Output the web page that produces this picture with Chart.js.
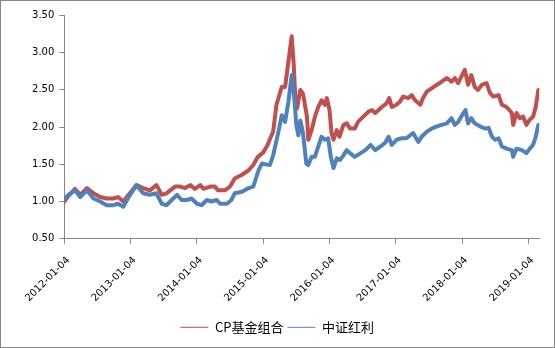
<!DOCTYPE html>
<html>
<head>
<meta charset="utf-8">
<script src="https://cdn.jsdelivr.net/npm/chart.js@4.4.1/dist/chart.umd.min.js"></script>
<style>
  html, body { margin: 0; padding: 0; background: #fff; }
  .frame { width: 555px; height: 348px; box-sizing: border-box; border: 1px solid #868686; }
  canvas { display: block; }
</style>
</head>
<body>
<div class="frame"><canvas id="chart" width="553" height="346"></canvas></div>
<script>
// ── 数据 ──────────────────────────────────────────────────────────────────────
// 时间以小数年份表示（2012.00 = 2012-01-04）
const tickYears  = [2012, 2013, 2014, 2015, 2016, 2017, 2018, 2019];
const tickLabels = ['2012-01-04', '2013-01-04', '2014-01-04', '2015-01-04',
                    '2016-01-04', '2017-01-04', '2018-01-04', '2019-01-04'];

const cpYears = [
  2012.00, 2012.06, 2012.16, 2012.24, 2012.34, 2012.44, 2012.54, 2012.64, 2012.74, 2012.81, 2012.89, 2012.97,
  2013.09, 2013.19, 2013.29, 2013.39, 2013.47, 2013.54, 2013.67, 2013.75, 2013.82, 2013.90, 2013.97,
  2014.05, 2014.10, 2014.20, 2014.27, 2014.32, 2014.42, 2014.50, 2014.57, 2014.68, 2014.78, 2014.85, 2014.92,
  2015.00, 2015.06, 2015.15, 2015.20, 2015.28, 2015.33, 2015.38, 2015.43, 2015.46, 2015.49, 2015.51, 2015.56,
  2015.60, 2015.66, 2015.68, 2015.73, 2015.78, 2015.83, 2015.88, 2015.93, 2015.96,
  2016.00, 2016.03, 2016.06, 2016.11, 2016.15, 2016.21, 2016.26, 2016.31, 2016.38, 2016.43, 2016.51, 2016.59,
  2016.64, 2016.69, 2016.74, 2016.79, 2016.86, 2016.90, 2016.94,
  2017.01, 2017.06, 2017.11, 2017.19, 2017.24, 2017.29, 2017.37, 2017.41, 2017.47, 2017.54, 2017.62, 2017.69,
  2017.77, 2017.84, 2017.89, 2017.94,
  2018.00, 2018.04, 2018.09, 2018.14, 2018.19, 2018.24, 2018.30, 2018.37, 2018.42, 2018.47, 2018.55, 2018.60,
  2018.67, 2018.75, 2018.77, 2018.82, 2018.87, 2018.92, 2018.97,
  2019.02, 2019.07, 2019.11, 2019.15,
];
const cpValues = [
  1.00, 1.07, 1.17, 1.09, 1.18, 1.11, 1.06, 1.04, 1.04, 1.06, 1.00, 1.09,
  1.22, 1.18, 1.15, 1.22, 1.09, 1.11, 1.20, 1.20, 1.18, 1.22, 1.17,
  1.22, 1.17, 1.20, 1.20, 1.15, 1.15, 1.20, 1.31, 1.36, 1.42, 1.49, 1.60,
  1.66, 1.75, 1.94, 2.30, 2.54, 2.54, 2.88, 3.22, 2.84, 2.30, 2.25, 2.50,
  2.45, 2.14, 1.83, 1.96, 2.14, 2.27, 2.36, 2.30, 2.39,
  2.23, 1.92, 1.83, 1.96, 1.87, 2.03, 2.05, 1.98, 1.98, 2.07, 2.14, 2.21,
  2.23, 2.19, 2.23, 2.27, 2.32, 2.39, 2.27,
  2.30, 2.34, 2.41, 2.39, 2.43, 2.36, 2.30, 2.39, 2.48, 2.52, 2.57, 2.61,
  2.66, 2.61, 2.66, 2.59,
  2.70, 2.77, 2.57, 2.70, 2.54, 2.50, 2.57, 2.59, 2.46, 2.41, 2.43, 2.30,
  2.27, 2.19, 2.03, 2.19, 2.12, 2.14, 2.03,
  2.10, 2.14, 2.27, 2.50,
];

const hlYears = [
  2012.00, 2012.06, 2012.16, 2012.24, 2012.34, 2012.44, 2012.54, 2012.64, 2012.74, 2012.81, 2012.89, 2012.97,
  2013.09, 2013.19, 2013.29, 2013.39, 2013.47, 2013.54, 2013.62, 2013.70, 2013.77, 2013.85, 2013.92,
  2014.00, 2014.07, 2014.15, 2014.22, 2014.30, 2014.35, 2014.45, 2014.52, 2014.57, 2014.68, 2014.78, 2014.85,
  2014.93, 2014.98,
  2015.03, 2015.10, 2015.15, 2015.23, 2015.28, 2015.33, 2015.38, 2015.43, 2015.46, 2015.50, 2015.53, 2015.56,
  2015.60, 2015.65, 2015.68, 2015.73, 2015.78, 2015.83, 2015.88, 2015.93, 2015.98,
  2016.02, 2016.06, 2016.11, 2016.16, 2016.21, 2016.26, 2016.31, 2016.38, 2016.47, 2016.54, 2016.62, 2016.69,
  2016.77, 2016.84, 2016.89, 2016.94,
  2017.01, 2017.09, 2017.16, 2017.26, 2017.34, 2017.39, 2017.47, 2017.54, 2017.62, 2017.69, 2017.77, 2017.84,
  2017.89, 2017.94,
  2018.00, 2018.05, 2018.09, 2018.14, 2018.19, 2018.27, 2018.35, 2018.40, 2018.45, 2018.50, 2018.55, 2018.60,
  2018.67, 2018.75, 2018.77, 2018.82, 2018.90, 2018.97,
  2019.02, 2019.07, 2019.11, 2019.15,
];
const hlValues = [
  1.03, 1.09, 1.15, 1.06, 1.15, 1.04, 1.00, 0.95, 0.95, 0.97, 0.93, 1.06,
  1.22, 1.11, 1.09, 1.11, 0.97, 0.95, 1.02, 1.09, 1.02, 1.02, 1.04,
  0.97, 0.95, 1.02, 1.00, 1.02, 0.97, 0.97, 1.02, 1.11, 1.13, 1.18, 1.20,
  1.42, 1.51,
  1.50, 1.49, 1.62, 1.94, 2.16, 2.07, 2.34, 2.70, 2.48, 2.03, 1.89, 2.09,
  1.92, 1.51, 1.49, 1.60, 1.60, 1.74, 1.87, 1.83, 1.85,
  1.60, 1.45, 1.58, 1.56, 1.62, 1.69, 1.65, 1.60, 1.65, 1.69, 1.76, 1.69,
  1.74, 1.79, 1.87, 1.76,
  1.83, 1.85, 1.85, 1.92, 1.80, 1.87, 1.94, 1.98, 2.01, 2.03, 2.05, 2.12,
  2.03, 2.07,
  2.16, 2.23, 2.05, 2.12, 2.05, 2.01, 1.98, 1.99, 1.87, 1.83, 1.85, 1.74,
  1.71, 1.69, 1.60, 1.71, 1.69, 1.65,
  1.71, 1.76, 1.87, 2.03,
];

const RED  = '#C0504D';
const BLUE = '#4F81BD';
const AXIS = '#868686';

const toPoints = (xs, ys) => xs.map((x, i) => ({ x, y: ys[i] }));

// ── 图表 ──────────────────────────────────────────────────────────────────────
Chart.defaults.font.family = '"DejaVu Sans", "Noto Sans CJK SC", sans-serif';
Chart.defaults.font.size = 10;
Chart.defaults.color = '#000';

new Chart(document.getElementById('chart'), {
  type: 'line',
  data: {
    datasets: [
      { label: 'CP基金组合', data: toPoints(cpYears, cpValues), borderColor: RED,  backgroundColor: RED,  order: 1 },
      { label: '中证红利',   data: toPoints(hlYears, hlValues), borderColor: BLUE, backgroundColor: BLUE, order: 0 },
    ],
  },
  options: {
    responsive: false,
    animation: false,
    elements: {
      line:  { borderWidth: 4, tension: 0, borderJoinStyle: 'round', borderCapStyle: 'round' },
      point: { radius: 0 },
    },
    layout: { padding: { top: 14.5, right: 14.7, bottom: 3.2, left: 14 } },
    plugins: {
      tooltip: { enabled: false },
      legend: {
        position: 'bottom',
        labels: {
          usePointStyle: true,
          pointStyle: 'line',
          pointStyleWidth: 28,
          padding: 4,
          font: { family: '"Noto Sans CJK SC", "DejaVu Sans", sans-serif', size: 13 },
          sort: (a, b) => a.datasetIndex - b.datasetIndex,
        },
      },
    },
    scales: {
      x: {
        type: 'linear',
        min: 2012,
        max: 2019.164,
        afterBuildTicks: s => { s.ticks = tickYears.map(v => ({ value: v })); },
        afterFit: s => { s.height = 78.1; },
        ticks: {
          autoSkip: false,
          minRotation: 45,
          maxRotation: 45,
          padding: 10.8,
          labelOffset: 4,
          callback: v => tickLabels[tickYears.indexOf(v)],
        },
        grid: { drawOnChartArea: false, tickLength: 5, color: AXIS },
        border: { color: AXIS },
      },
      y: {
        min: 0.5,
        max: 3.5,
        afterFit: s => { s.width = 49.3; },
        ticks: { stepSize: 0.5, padding: 5, callback: v => v.toFixed(2) },
        grid: { drawOnChartArea: false, tickLength: 5, color: AXIS },
        border: { color: AXIS },
      },
    },
  },
});
</script>
</body>
</html>
